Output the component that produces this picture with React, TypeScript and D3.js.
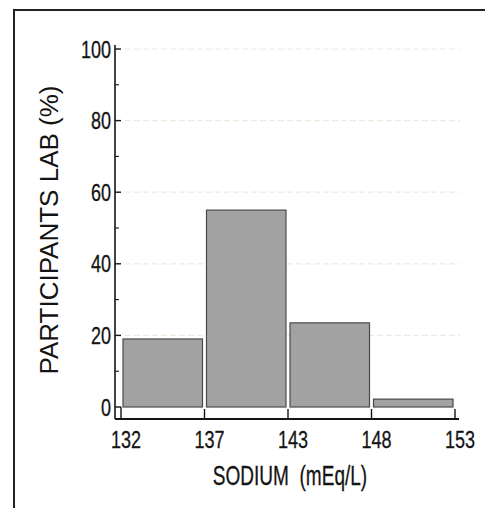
import React from "react";
import * as d3 from "d3";

const binEdges = ["132", "137", "143", "148", "153"];
const binValues = [19, 55, 23.5, 2.2];
const yMajorTicks = [0, 20, 40, 60, 80, 100];
const yMinorTicks = [10, 30, 50, 70, 90];
const gridValues = [20, 40, 60, 80, 100];
const xTitle = "SODIUM\u00A0\u00A0(mEq/L)";
const yTitle = "PARTICIPANTS LAB (%)";

const font = "'Liberation Sans', Arial, Helvetica, sans-serif";
const ink = "#141414";

function Narrow(props: { x: number; y: number; sx: number; size: number; anchor: string; children: any }) {
  return (
    <text
      transform={`translate(${props.x},${props.y}) scale(${props.sx},1)`}
      textAnchor={props.anchor}
      fontFamily={font}
      fontSize={props.size}
      fill={ink}
      stroke={ink}
      strokeWidth={0.3}
    >
      {props.children}
    </text>
  );
}

export default function App() {
  const W = 485, H = 508;
  const axisX = 115;
  const axisY = 419;
  const x = d3.scaleLinear().domain([0, binEdges.length - 1]).range([121, 455]);
  const y = d3.scaleLinear().domain([0, 100]).range([407, 49]);

  return (
    <svg width={W} height={H} style={{ position: "absolute", left: 0, top: 0, background: "#fff" }}>
      <rect x={0} y={0} width={W} height={H} fill="#fff" />
      {/* frame */}
      <line x1={14} y1={10} x2={14} y2={H} stroke="#222" strokeWidth={2} />
      <line x1={13} y1={10} x2={W} y2={10} stroke="#222" strokeWidth={2} />

      {/* faint grid */}
      {gridValues.map((v) => (
        <line key={"g" + v} x1={125} x2={460} y1={y(v)} y2={y(v)} stroke="#f1e9e0" strokeWidth={1.2} strokeDasharray="6 3" />
      ))}

      {/* bars */}
      {binValues.map((v, i) => (
        <rect
          key={"b" + i}
          x={x(i) + 2}
          y={y(v)}
          width={x(i + 1) - x(i) - 4}
          height={y(0) - y(v)}
          fill="#a2a2a2"
          stroke="#4a4a4a"
          strokeWidth={1.2}
        />
      ))}

      {/* y axis */}
      <line x1={axisX} x2={axisX} y1={y(100) - 4} y2={axisY} stroke={ink} strokeWidth={1.6} />
      {yMajorTicks.map((v) => (
        <line key={"ym" + v} x1={axisX} x2={axisX + 6} y1={y(v)} y2={y(v)} stroke={ink} strokeWidth={1.4} />
      ))}
      {yMinorTicks.map((v) => (
        <line key={"yn" + v} x1={axisX} x2={axisX + 4} y1={y(v)} y2={y(v)} stroke={ink} strokeWidth={1.1} />
      ))}
      {yMajorTicks.map((v) => (
        <Narrow key={"yl" + v} x={axisX - 4} y={y(v) + 8.5} sx={0.75} size={24} anchor="end">
          {v}
        </Narrow>
      ))}

      {/* x axis */}
      <line x1={axisX} x2={459} y1={axisY} y2={axisY} stroke={ink} strokeWidth={1.8} />
      {binEdges.map((e, i) => (
        <line key={"xt" + i} x1={x(i)} x2={x(i)} y1={axisY} y2={i === 0 ? y(0) : axisY - 10} stroke={ink} strokeWidth={1.4} />
      ))}
      {binEdges.map((e, i) => (
        <Narrow key={"xl" + i} x={x(i) + 5} y={448} sx={0.75} size={24} anchor="middle">
          {e}
        </Narrow>
      ))}

      {/* titles */}
      <Narrow x={290} y={485} sx={0.68} size={28} anchor="middle">
        {xTitle}
      </Narrow>
      <text
        transform="translate(58,230) rotate(-90)"
        textAnchor="middle"
        fontFamily={font}
        fontSize={26}
        fill={ink}
      >
        {yTitle}
      </text>
    </svg>
  );
}
